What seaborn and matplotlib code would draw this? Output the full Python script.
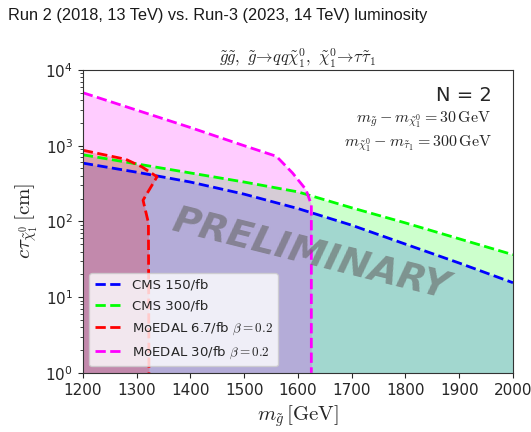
import numpy as np
import matplotlib
matplotlib.use('Agg')
import matplotlib.pyplot as plt
import seaborn as sns

# curves (log10 of c*tau in cm)
cms150_m = [1200, 1300, 1400, 1500, 1600, 1700, 1800, 1900, 2000]
cms150_log = [2.77, 2.65, 2.52, 2.36, 2.17, 1.95, 1.70, 1.45, 1.19]

cms300_m = [1200, 1300, 1400, 1500, 1600, 1700, 1800, 1900, 2000]
cms300_log = [2.88, 2.76, 2.64, 2.52, 2.39, 2.18, 1.98, 1.77, 1.56]

moedal30_m = [1200, 1300, 1400, 1500, 1560, 1590, 1615, 1625, 1625]
moedal30_log = [3.70, 3.47, 3.24, 3.00, 2.86, 2.64, 2.42, 2.22, 0.0]

moedal67_m = [1200, 1280, 1310, 1338, 1312, 1322, 1323]
moedal67_log = [2.94, 2.82, 2.72, 2.59, 2.28, 1.98, 0.0]

labels = ['CMS 150/fb', 'CMS 300/fb',
          r'MoEDAL 6.7/fb $\beta = 0.2$', r'MoEDAL 30/fb $\beta = 0.2$']

sns.set_style('ticks')
plt.rcParams['font.family'] = ['DejaVu Sans']
plt.rcParams['mathtext.fontset'] = 'cm'
plt.rcParams['xtick.direction'] = 'out'
plt.rcParams['ytick.direction'] = 'out'

fig = plt.figure(figsize=(5.31, 4.32), dpi=100)
ax = fig.add_axes([0.156, 0.137, 0.81, 0.701])

c150 = 10 ** np.array(cms150_log)
c300 = 10 ** np.array(cms300_log)
m30 = 10 ** np.array(moedal30_log)
m67 = 10 ** np.array(moedal67_log)

# shaded regions
ax.fill_between(cms300_m, 1, c300, color='lime', alpha=0.2, lw=0)
ax.fill_between(cms150_m, 1, c150, color='#437dd6', alpha=0.3, lw=0)
ax.fill_between(moedal30_m, 1, m30, color='magenta', alpha=0.2, lw=0)
ax.fill_betweenx(m67[::-1], 1200, np.array(moedal67_m)[::-1], color='red', alpha=0.2, lw=0)

kw = dict(ls='--', lw=2, ax=ax, sort=False, estimator=None)
sns.lineplot(x=cms150_m, y=c150, color='blue', label=labels[0], **kw)
sns.lineplot(x=cms300_m, y=c300, color='lime', label=labels[1], **kw)
sns.lineplot(x=moedal67_m, y=m67, color='red', label=labels[2], **kw)
sns.lineplot(x=moedal30_m, y=m30, color='magenta', label=labels[3], **kw)

ax.set_yscale('log')
ax.set_xlim(1200, 2000)
ax.set_ylim(1, 1e4)
ax.tick_params(labelsize=11)
for s in ax.spines.values():
    s.set_color('#333333')

ax.set_xlabel(r'$m_{\tilde{g}}\,[\mathrm{GeV}]$', fontsize=15)
ax.set_ylabel(r'$c\tau_{\tilde{\chi}^0_1}\,[\mathrm{cm}]$', fontsize=15)
ax.set_title(r'$\tilde{g}\tilde{g},\ \tilde{g}\!\rightarrow\! qq\tilde{\chi}^0_1,\ \tilde{\chi}^0_1\!\rightarrow\!\tau\tilde{\tau}_1$',
             fontsize=12, pad=4)

ax.legend(loc='lower left', fontsize=9.5, framealpha=0.8, handlelength=2.0,
          labelspacing=0.6, bbox_to_anchor=(0.0, 0.0))

ax.text(0.95, 0.917, 'N = 2', transform=ax.transAxes, ha='right', va='center', fontsize=14)
ax.text(0.95, 0.835, r'$m_{\tilde{g}} - m_{\tilde{\chi}^0_1} = 30\,\mathrm{GeV}$',
        transform=ax.transAxes, ha='right', va='center', fontsize=11.5)
ax.text(0.95, 0.755, r'$m_{\tilde{\chi}^0_1} - m_{\tilde{\tau}_1} = 300\,\mathrm{GeV}$',
        transform=ax.transAxes, ha='right', va='center', fontsize=11.5)

ax.text(0.53, 0.39, 'PRELIMINARY', transform=ax.transAxes, ha='center', va='center',
        fontsize=27, fontweight='bold', style='italic', color='#666666', alpha=0.6, rotation=-14)

fig.text(0.015, 0.965, 'Run 2 (2018, 13 TeV) vs. Run-3 (2023, 14 TeV) luminosity',
         ha='left', va='center', fontsize=11.8, color='#1a1a1a', family='Liberation Sans')

fig.savefig('out.png', dpi=100)
